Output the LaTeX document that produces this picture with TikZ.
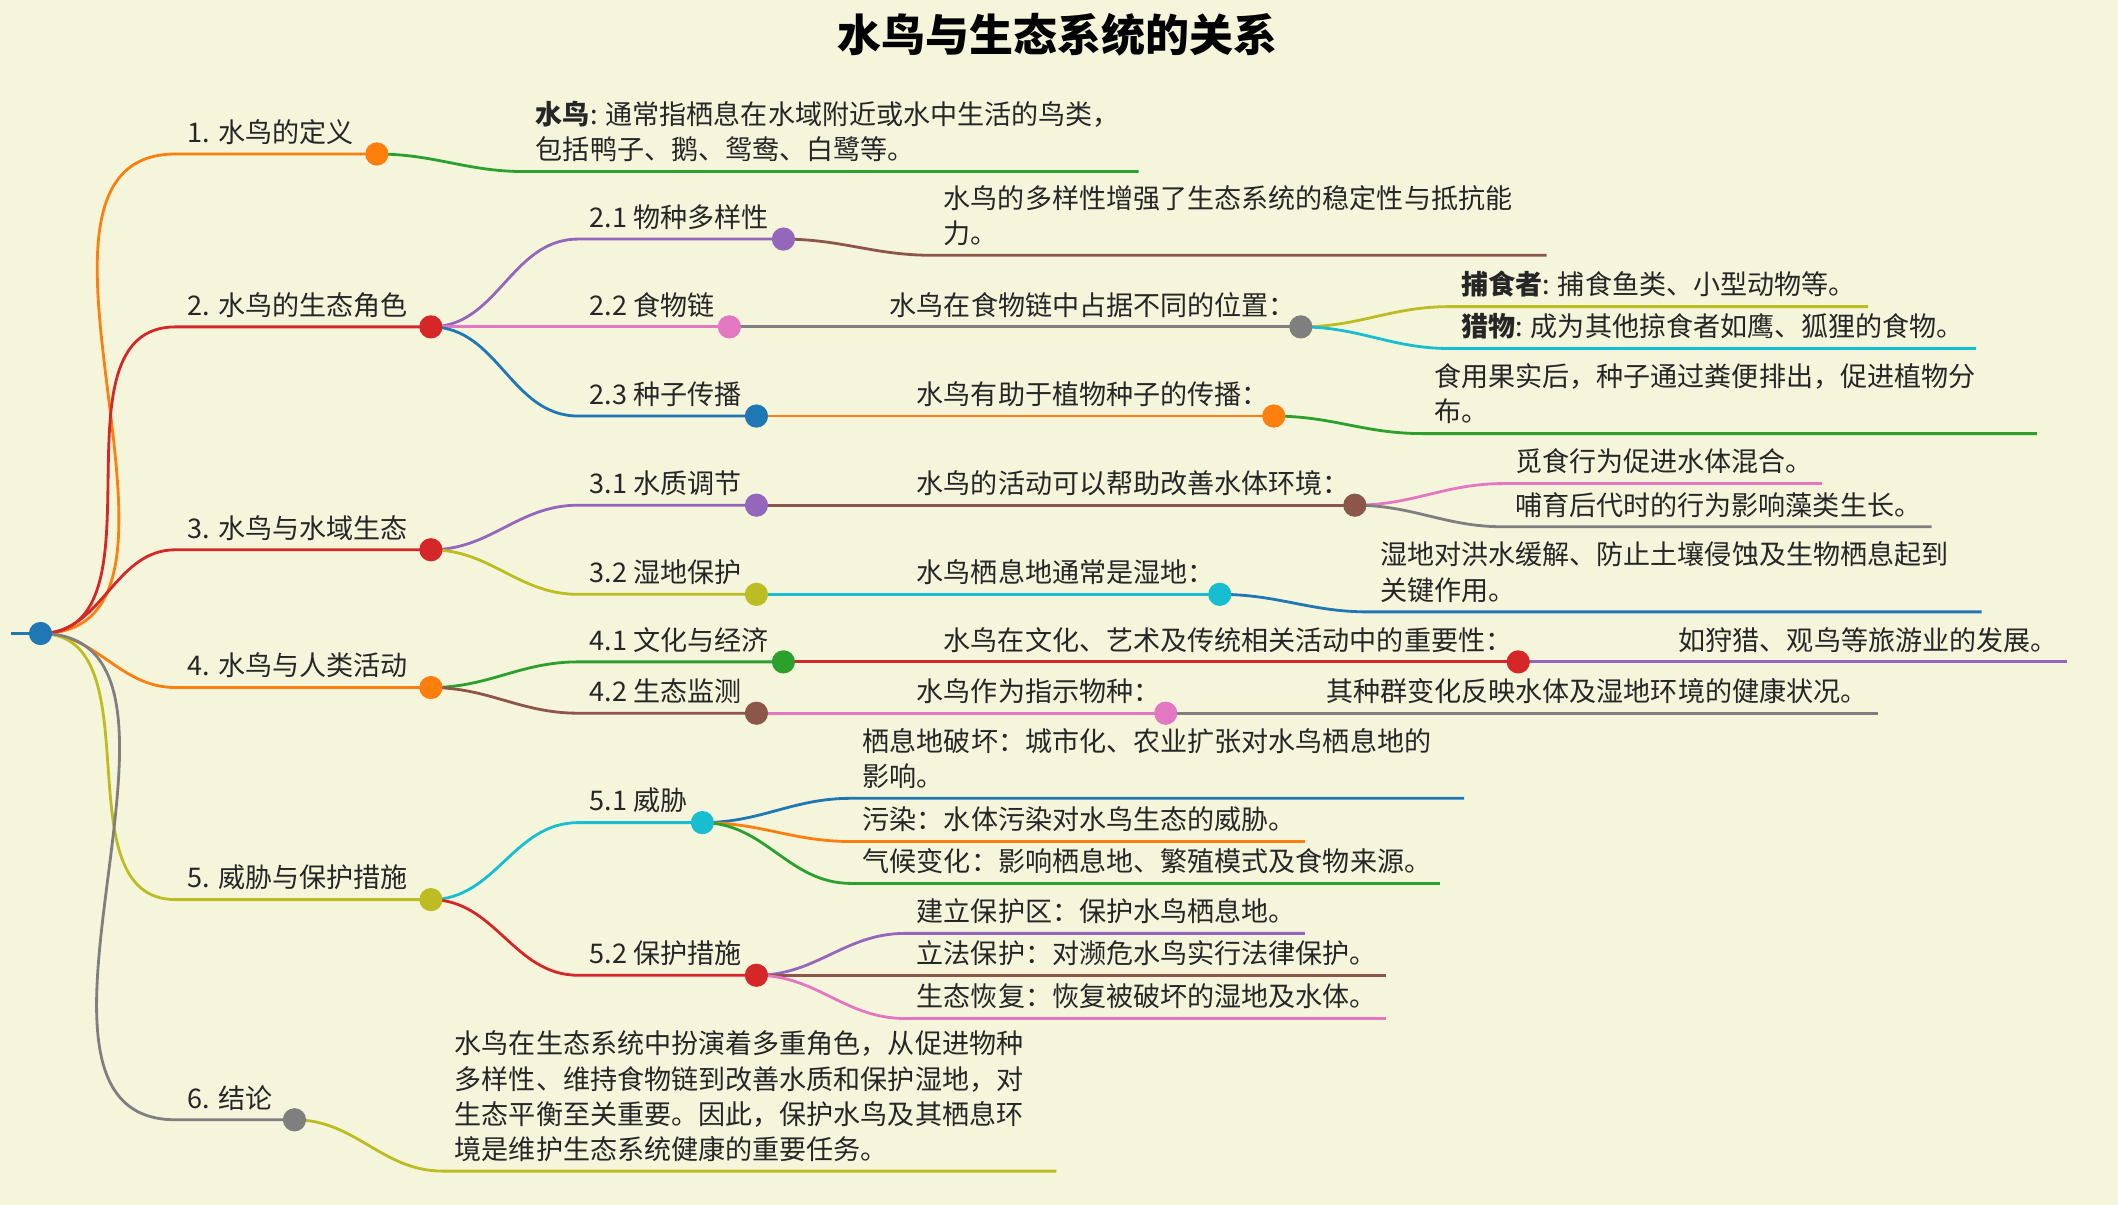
\documentclass[tikz,border=0pt]{standalone}
\usepackage{fontspec}
\setmainfont{Noto Sans CJK SC}
\definecolor{bg}{HTML}{F5F5DC}
\definecolor{mmorange}{HTML}{FF7F0E}
\definecolor{mmred}{HTML}{D62728}
\definecolor{mmgreen}{HTML}{2CA02C}
\definecolor{mmpurple}{HTML}{9467BD}
\definecolor{mmbrown}{HTML}{8C564B}
\definecolor{mmpink}{HTML}{E377C2}
\definecolor{mmgray}{HTML}{7F7F7F}
\definecolor{mmolive}{HTML}{BCBD22}
\definecolor{mmcyan}{HTML}{17BECF}
\definecolor{mmblue}{HTML}{1F77B4}
\tikzset{
  lbl/.style={inner xsep=2pt,inner ysep=2.5pt,align=left,font=\fontsize{7.7pt}{10pt}\selectfont,text=black!85},
  edge/.style={line width=0.8pt},
  dot/.style={line width=0.9pt,fill=white}
}
% parent, name, x start, y, x end, colour, text
\newcommand{\mmbranch}[7]{%
  \coordinate (#2-s) at (#3,#4);
  \coordinate (#2) at (#5,#4);
  \draw[edge,#6] (#1) to[out=0,in=180] (#2-s) -- (#2);
  \node[lbl,anchor=south west] (#2-t) at (#3+3,#4) {#7};
}
\begin{document}
\begin{tikzpicture}[x=0.01351cm,y=-0.01351cm]
  \fill[bg] (0,0) rectangle (1568,892);
  \useasboundingbox (0,0) rectangle (1568,892);
  \node[font=\fontsize{12.5pt}{14pt}\selectfont\bfseries] (title) at (783,26) {水鸟与生态系统的关系};
  \coordinate (root-s) at (8,469);
  \coordinate (root) at (30,469);
  \draw[edge,mmblue] (root-s) -- (root);
  % level 1
  \mmbranch{root}{n1}{130}{114}{279}{mmorange}{1. 水鸟的定义}
  \mmbranch{root}{n2}{130}{242}{319}{mmred}{2. 水鸟的生态角色}
  \mmbranch{root}{n3}{130}{407}{319}{mmred}{3. 水鸟与水域生态}
  \mmbranch{root}{n4}{130}{509}{319}{mmorange}{4. 水鸟与人类活动}
  \mmbranch{root}{n5}{130}{666}{319}{mmolive}{5. 威胁与保护措施}
  \mmbranch{root}{n6}{130}{829}{218}{mmgray}{6. 结论}
  % 1
  \mmbranch{n1}{n1a}{388}{127}{843}{mmgreen}{\textbf{水鸟}: 通常指栖息在水域附近或水中生活的鸟类，\\包括鸭子、鹅、鸳鸯、白鹭等。}
  % 2
  \mmbranch{n2}{n21}{428}{177}{580}{mmpurple}{2.1 物种多样性}
  \mmbranch{n21}{n21a}{690}{189}{1145}{mmbrown}{水鸟的多样性增强了生态系统的稳定性与抵抗能\\力。}
  \mmbranch{n2}{n22}{428}{242}{540}{mmpink}{2.2 食物链}
  \mmbranch{n22}{n22a}{650}{242}{963}{mmgray}{水鸟在食物链中占据不同的位置：}
  \mmbranch{n22a}{n22b}{1073}{227}{1383}{mmolive}{\textbf{捕食者}: 捕食鱼类、小型动物等。}
  \mmbranch{n22a}{n22c}{1073}{258}{1463}{mmcyan}{\textbf{猎物}: 成为其他掠食者如鹰、狐狸的食物。}
  \mmbranch{n2}{n23}{428}{308}{560}{mmblue}{2.3 种子传播}
  \mmbranch{n23}{n23a}{670}{308}{943}{mmorange}{水鸟有助于植物种子的传播：}
  \mmbranch{n23a}{n23b}{1053}{321}{1508}{mmgreen}{食用果实后，种子通过粪便排出，促进植物分\\布。}
  % 3
  \mmbranch{n3}{n31}{428}{374}{560}{mmpurple}{3.1 水质调节}
  \mmbranch{n31}{n31a}{670}{374}{1003}{mmbrown}{水鸟的活动可以帮助改善水体环境：}
  \mmbranch{n31a}{n31b}{1113}{358}{1349}{mmpink}{觅食行为促进水体混合。}
  \mmbranch{n31a}{n31c}{1113}{390}{1430}{mmgray}{哺育后代时的行为影响藻类生长。}
  \mmbranch{n3}{n32}{428}{440}{560}{mmolive}{3.2 湿地保护}
  \mmbranch{n32}{n32a}{670}{440}{903}{mmcyan}{水鸟栖息地通常是湿地：}
  \mmbranch{n32a}{n32b}{1013}{453}{1467}{mmblue}{湿地对洪水缓解、防止土壤侵蚀及生物栖息起到\\关键作用。}
  % 4
  \mmbranch{n4}{n41}{428}{490}{580}{mmgreen}{4.1 文化与经济}
  \mmbranch{n41}{n41a}{690}{490}{1124}{mmred}{水鸟在文化、艺术及传统相关活动中的重要性：}
  \mmbranch{n41a}{n41b}{1234}{490}{1530}{mmpurple}{如狩猎、观鸟等旅游业的发展。}
  \mmbranch{n4}{n42}{428}{528}{560}{mmbrown}{4.2 生态监测}
  \mmbranch{n42}{n42a}{670}{528}{863}{mmpink}{水鸟作为指示物种：}
  \mmbranch{n42a}{n42b}{973}{528}{1390}{mmgray}{其种群变化反映水体及湿地环境的健康状况。}
  % 5
  \mmbranch{n5}{n51}{428}{609}{520}{mmcyan}{5.1 威胁}
  \mmbranch{n51}{n51a}{630}{591}{1084}{mmblue}{栖息地破坏：城市化、农业扩张对水鸟栖息地的\\影响。}
  \mmbranch{n51}{n51b}{630}{623}{966}{mmorange}{污染：水体污染对水鸟生态的威胁。}
  \mmbranch{n51}{n51c}{630}{654}{1066}{mmgreen}{气候变化：影响栖息地、繁殖模式及食物来源。}
  \mmbranch{n5}{n52}{428}{722}{560}{mmred}{5.2 保护措施}
  \mmbranch{n52}{n52a}{670}{691}{966}{mmpurple}{建立保护区：保护水鸟栖息地。}
  \mmbranch{n52}{n52b}{670}{722}{1026}{mmbrown}{立法保护：对濒危水鸟实行法律保护。}
  \mmbranch{n52}{n52c}{670}{754}{1026}{mmpink}{生态恢复：恢复被破坏的湿地及水体。}
  % 6
  \mmbranch{n6}{n6a}{328}{867}{782}{mmolive}{水鸟在生态系统中扮演着多重角色，从促进物种\\多样性、维持食物链到改善水质和保护湿地，对\\生态平衡至关重要。因此，保护水鸟及其栖息环\\境是维护生态系统健康的重要任务。}
  % dots on top
  \foreach \n/\c in {root/mmblue,n1/mmorange,n2/mmred,n21/mmpurple,n22/mmpink,
      n22a/mmgray,n23/mmblue,n23a/mmorange,n3/mmred,n31/mmpurple,n31a/mmbrown,
      n32/mmolive,n32a/mmcyan,n4/mmorange,n41/mmgreen,n41a/mmred,n42/mmbrown,
      n42a/mmpink,n5/mmolive,n51/mmcyan,n52/mmred,n6/mmgray}
    \draw[dot,\c] (\n) circle (0.1cm);
\end{tikzpicture}
\end{document}
